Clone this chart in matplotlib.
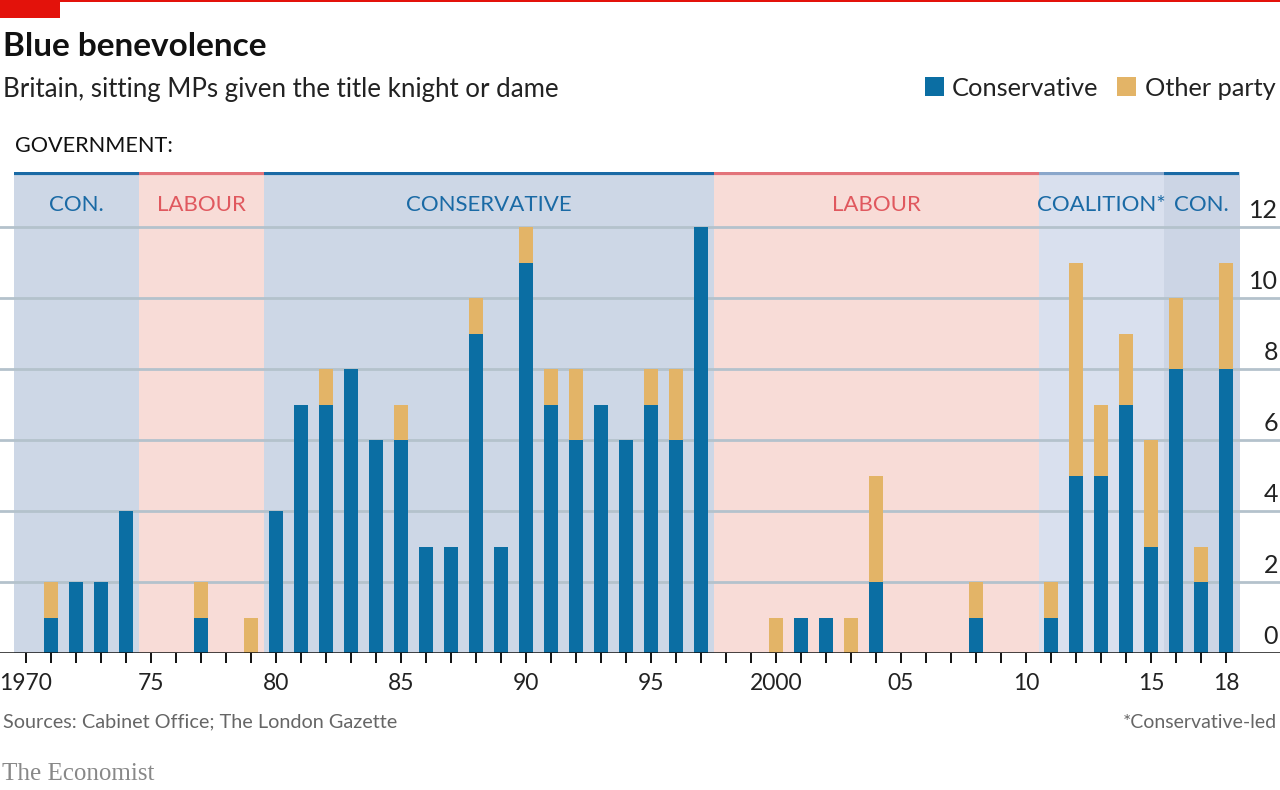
import matplotlib
matplotlib.use("Agg")
import matplotlib.pyplot as plt
import matplotlib.transforms as mtransforms
from matplotlib.patches import Rectangle
import numpy as np

# ---- data ----
years = list(range(1970, 2019))
conservative = [0, 1, 2, 2, 4, 0, 0, 1, 0, 0,
                4, 7, 7, 8, 6, 6, 3, 3, 9, 3,
                11, 7, 6, 7, 6, 7, 6, 12, 0, 0,
                0, 1, 1, 0, 2, 0, 0, 0, 1, 0,
                0, 1, 5, 5, 7, 3, 8, 2, 8]
other = [0, 1, 0, 0, 0, 0, 0, 1, 0, 1,
         0, 0, 1, 0, 0, 1, 0, 0, 1, 0,
         1, 1, 2, 0, 0, 1, 2, 0, 0, 0,
         1, 0, 0, 1, 3, 0, 0, 0, 1, 0,
         0, 1, 6, 2, 2, 3, 2, 1, 3]
gov_labels = ["CON.", "LABOUR", "CONSERVATIVE", "LABOUR", "COALITION*", "CON."]
gov_start = [1969.5, 1974.5, 1979.5, 1997.5, 2010.5, 2015.5]
gov_end = [1974.5, 1979.5, 1997.5, 2010.5, 2015.5, 2018.5]
gov_kind = ["con", "lab", "con", "lab", "coal", "con2"]
xtick_years = [1970, 1975, 1980, 1985, 1990, 1995, 2000, 2005, 2010, 2015, 2018]
xtick_labels = ["1970", "75", "80", "85", "90", "95", "2000", "05", "10", "15", "18"]
yticks = [0, 2, 4, 6, 8, 10, 12]

# ---- styles ----
C_CON = "#0b6ea3"
C_OTH = "#e3b467"
band_fill = {"con": "#cdd7e6", "lab": "#f8dcd7", "coal": "#d9e0ee", "con2": "#ccd5e5"}
band_line = {"con": "#1a6aa5", "lab": "#e3737a", "coal": "#8aa7cb", "con2": "#1a6aa5"}
band_text = {"con": "#1a6aa5", "lab": "#e0585e", "coal": "#1a6aa5", "con2": "#1a6aa5"}
GRID = "#b4c2cc"
FONT = "Lato"
plt.rcParams["font.family"] = [FONT, "DejaVu Sans"]

W, H = 1280, 790
fig = plt.figure(figsize=(W / 100, H / 100), dpi=100)

x0_px, ppy = 26.0, 25.0
zero_px, top_px, ppu = 653.0, 172.0, 35.5
xlim = (1970 - x0_px / ppy, 1970 + (W - x0_px) / ppy)
ytop = (zero_px - top_px) / ppu

ax = fig.add_axes([0, (H - zero_px) / H, 1, (zero_px - top_px) / H])
ax.set_xlim(*xlim)
ax.set_ylim(0, ytop)
for s in ax.spines.values():
    s.set_visible(False)
ax.set_facecolor("none")

# government bands
for lab, s, e, k in zip(gov_labels, gov_start, gov_end, gov_kind):
    ax.axvspan(s, e, ymin=0, ymax=1, facecolor=band_fill[k], edgecolor=band_fill[k],
               lw=0.6, antialiased=False, zorder=0)
    ax.plot([s, e], [ytop - 0.04, ytop - 0.04], color=band_line[k], lw=3.0,
            solid_capstyle="butt", zorder=3)
    ax.text((s + e) / 2, 12.63, lab, ha="center", va="center",
            fontsize=16, color=band_text[k], zorder=4)

# gridlines
for v in yticks[1:]:
    ax.axhline(v, color=GRID, lw=2.0, zorder=1)
trans = mtransforms.blended_transform_factory(ax.transAxes, ax.transData)
for v in yticks:
    ax.text(0.9985, v + 0.13, str(v), transform=trans, ha="right", va="bottom",
            fontsize=18, color="#222222", zorder=4)

# bars
years_a = np.array(years)
ax.bar(years_a, conservative, width=0.58, color=C_CON, zorder=2, lw=0)
ax.bar(years_a, other, width=0.58, bottom=conservative, color=C_OTH, zorder=2, lw=0)

ax.axhline(0, color="#111111", lw=1.8, zorder=5)

# x ticks
ax.set_xticks(xtick_years)
ax.set_xticklabels(xtick_labels, fontsize=16.5, color="#222222")
ax.set_xticks(years, minor=True)
ax.tick_params(axis="x", which="both", direction="out", length=7.5, width=1.4,
               color="#111111", pad=7)
ax.set_yticks([])

# titles & texts
fig.add_artist(Rectangle((0, 1 - 2 / H), 1, 2 / H, transform=fig.transFigure,
                         color="#e3120b", lw=0))
fig.add_artist(Rectangle((0, 1 - 18 / H), 60 / W, 18 / H, transform=fig.transFigure,
                         color="#e3120b", lw=0))
fig.text(3 / W, 1 - 47 / H, "Blue benevolence", fontsize=24, fontweight="bold",
         color="#111111", va="center", ha="left")
fig.text(3 / W, 1 - 90 / H, "Britain, sitting MPs given the title knight or dame",
         fontsize=18.6, color="#222222", va="center", ha="left")
fig.text(15 / W, 1 - 146 / H, "GOVERNMENT:", fontsize=15.6, color="#111111",
         va="center", ha="left")

# legend
fig.add_artist(Rectangle((925 / W, 1 - 96 / H), 19 / W, 19 / H,
                         transform=fig.transFigure, color=C_CON, lw=0))
fig.text(952 / W, 1 - 89 / H, "Conservative", fontsize=18.3, color="#222222",
         va="center", ha="left")
fig.add_artist(Rectangle((1117 / W, 1 - 96 / H), 19 / W, 19 / H,
                         transform=fig.transFigure, color=C_OTH, lw=0))
fig.text(1145 / W, 1 - 89 / H, "Other party", fontsize=18.3, color="#222222",
         va="center", ha="left")

fig.text(3 / W, 1 - 722 / H, "Sources: Cabinet Office; The London Gazette",
         fontsize=14.3, color="#666666", va="center", ha="left")
fig.text(1277 / W, 1 - 722 / H, "*Conservative-led", fontsize=14,
         color="#666666", va="center", ha="right")
fig.text(2 / W, 1 - 774 / H, "The Economist", fontsize=18, color="#888888",
         family=["Liberation Serif", "DejaVu Serif"], va="center", ha="left")

fig.savefig("out.png", dpi=100, facecolor="white")
